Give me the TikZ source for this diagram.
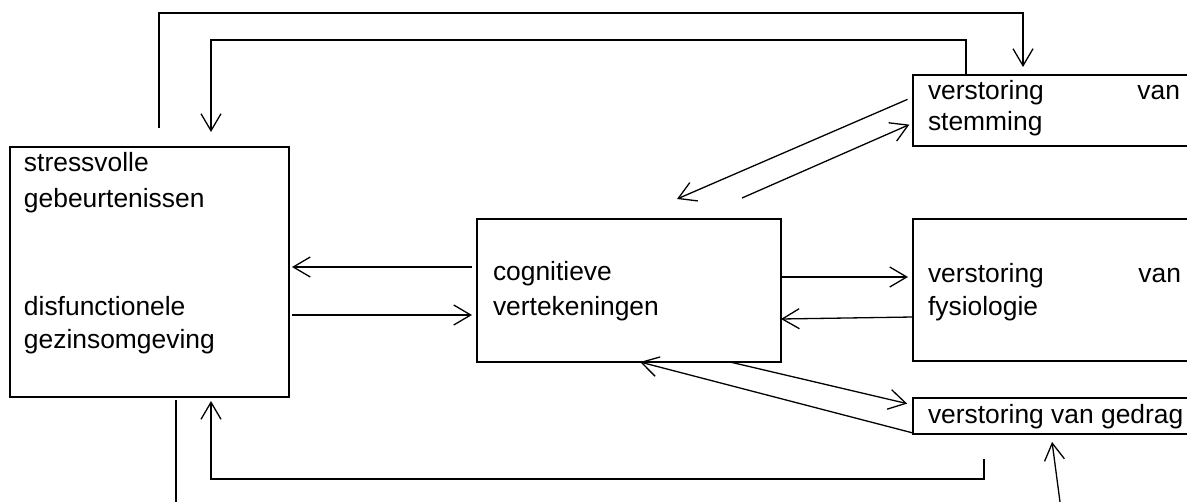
\documentclass[tikz,border=0pt]{standalone}
\usepackage{fontspec}
\setmainfont{Liberation Sans}
\usetikzlibrary{arrows.meta}
\begin{document}
\begin{tikzpicture}[x=0.5pt,y=-0.5pt,
  box/.style={draw, line width=1.25pt, inner sep=0pt, outer sep=0pt, anchor=north west},
  txt/.style={inner sep=0pt, outer sep=0pt, anchor=base west, font=\fontsize{13.2pt}{15pt}\selectfont},
  txtr/.style={txt, anchor=base east},
  conn/.style={line width=0.65pt},
  arr/.style={conn, -{Straight Barb[length=8.5pt,width=10pt]}}]
\useasboundingbox (0,0) rectangle (1187,502);
% boxes
\node[box, minimum width=139.5pt, minimum height=125pt] (left) at (10,147) {};
\node[box, minimum width=152pt, minimum height=71.5pt] (mid) at (477,219) {};
\node[box, minimum width=150pt, minimum height=35.5pt] (stem) at (913,75) {};
\node[box, minimum width=150pt, minimum height=71pt] (fys) at (913,219) {};
\node[box, minimum width=150pt, minimum height=18pt] (ged) at (913,398) {};
% texts
\node[txt] (l1) at (24,172) {stressvolle};
\node[txt] (l2) at (24,207) {gebeurtenissen};
\node[txt] (l3) at (24,315) {disfunctionele};
\node[txt] (l4) at (24,348) {gezinsomgeving};
\node[txt] (m1) at (493,280) {cognitieve};
\node[txt] (m2) at (493,315) {vertekeningen};
\node[txt] (s1) at (928,100) {verstoring};
\node[txtr] (s2) at (1180,100) {van};
\node[txt] (s3) at (928,131) {stemming};
\node[txt] (f1) at (928,282) {verstoring};
\node[txtr] (f2) at (1181,282) {van};
\node[txt] (f3) at (928,315) {fysiologie};
\node[txt] (g1) at (928,423) {verstoring van gedrag};
% free ends
\coordinate (o1) at (159,128);
\coordinate (t7) at (677,199);
\coordinate (s8) at (742,198);
\coordinate (b11) at (984,459);
\coordinate (f12) at (176,502);
\coordinate (f13) at (1060,502);
% connectors
\draw[arr, shorten >=4pt] (o1) |- (1023,13) -- (stem.north -| 1023,0);
\draw[arr, shorten >=7.5pt] (stem.north -| 966,0) |- (211,40) -- (left.north -| 211,0);
\draw[arr, shorten <=2.5pt, shorten >=1.5pt] (mid.west |- 0,267) -- (left.east |- 0,267);
\draw[arr, shorten <=1.5pt, shorten >=2.5pt] (left.east |- 0,315) -- (mid.west |- 0,315);
\draw[arr, shorten >=2.5pt] (mid.east |- 0,277) -- (fys.west |- 0,277);
\draw[arr] (fys.west |- 0,317) -- (mid.east |- 0,319);
\draw[arr, shorten <=3pt] (stem.west |- 0,97) -- (t7);
\draw[arr, shorten >=2pt] (s8) -- (stem.west |- 0,123);
\draw[arr, shorten >=3pt] (mid.south -| 730,0) -- (ged.west |- 0,405);
\draw[arr] (ged.west |- 0,433) -- (mid.south -| 640,0);
\draw[arr, shorten >=2pt] (b11) |- (211,479) -- (left.south -| 211,0);
\draw[conn, shorten <=1.5pt] (left.south -| 176,0) -- (f12);
\draw[arr, shorten >=4pt] (f13) -- (ged.south -| 1051,0);
\end{tikzpicture}
\end{document}
